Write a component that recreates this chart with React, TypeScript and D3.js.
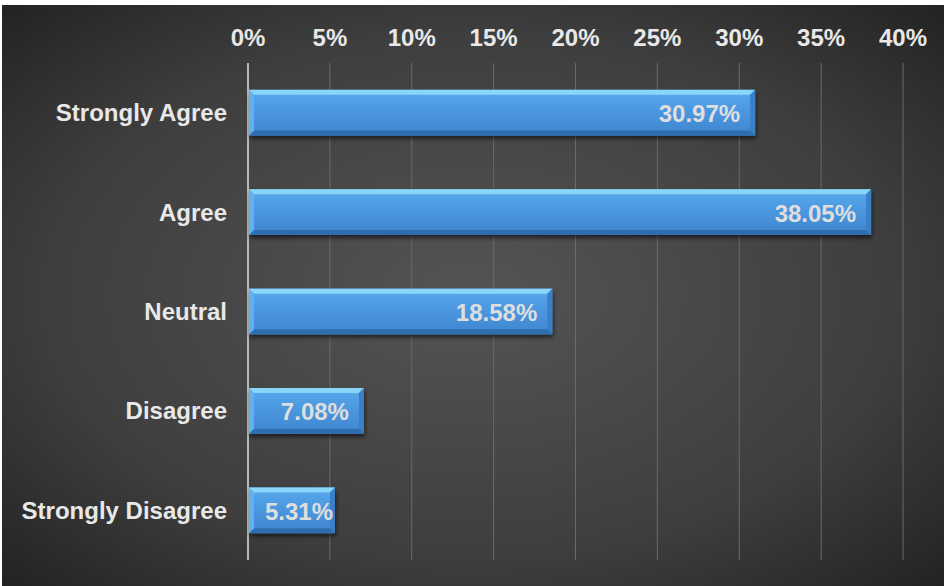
import React from "react";
import * as d3 from "d3";

const categories = ["Strongly Agree", "Agree", "Neutral", "Disagree", "Strongly Disagree"];
const values = [30.97, 38.05, 18.58, 7.08, 5.31];
const tickValues = [0, 5, 10, 15, 20, 25, 30, 35, 40];

const W = 944;
const H = 586;

function labelWidth(s: string, size: number) {
  let w = 0;
  for (const ch of s) w += ch === "." ? 0.278 : ch === "%" ? 0.889 : 0.556;
  return w * size;
}

export default function App() {
  const x = d3.scaleLinear().domain([0, 40]).range([248, 903]);
  const y = d3.scaleBand<string>().domain(categories).range([63, 560]).paddingInner(0.54).paddingOuter(0.27);
  const bh = y.bandwidth();
  const bev = 5;
  const font = "'Liberation Sans', Arial, sans-serif";
  return (
    <svg width={W} height={H} style={{ position: "absolute", left: 0, top: 0 }}>
      <defs>
        <radialGradient id="bg" cx="0.5" cy="0.5" r="0.75" fx="0.5" fy="0.5">
          <stop offset="0" stopColor="#545454" />
          <stop offset="0.6" stopColor="#3e3e3e" />
          <stop offset="1" stopColor="#1e1e1e" />
        </radialGradient>
        <linearGradient id="barg" x1="0" y1="0" x2="0" y2="1">
          <stop offset="0" stopColor="#58aaee" />
          <stop offset="0.5" stopColor="#4a96de" />
          <stop offset="1" stopColor="#3f86cf" />
        </linearGradient>
        <filter id="sh" x="-5%" y="-20%" width="115%" height="160%">
          <feGaussianBlur in="SourceAlpha" stdDeviation="2" />
          <feOffset dx="1" dy="3" result="o" />
          <feComponentTransfer>
            <feFuncA type="linear" slope="0.6" />
          </feComponentTransfer>
          <feMerge>
            <feMergeNode />
            <feMergeNode in="SourceGraphic" />
          </feMerge>
        </filter>
      </defs>
      <rect x={2} y={5} width={W - 2} height={H - 5} fill="url(#bg)" />
      {tickValues.map((t) => (
        <line key={t} x1={x(t)} x2={x(t)} y1={63} y2={560} stroke={t === 0 ? "#b8b8b8" : "#6a6a6a"} strokeWidth={t === 0 ? 2 : 1} />
      ))}
      {tickValues.map((t) => (
        <text key={"l" + t} x={x(t)} y={37} textAnchor="middle" dominantBaseline="central" fill="#e8e8e8" fontFamily={font} fontWeight="bold" fontSize={24}>
          {t + "%"}
        </text>
      ))}
      {categories.map((c, i) => {
        const x0 = x(0) + 1;
        const x1 = x(values[i]);
        const y0 = y(c)!;
        const y1 = y0 + bh;
        const lbl = values[i].toFixed(2) + "%";
        const lw = labelWidth(lbl, 24);
        const lx = Math.max(x1 - 15, x(0) + 17 + lw);
        return (
          <g key={c}>
            <g filter="url(#sh)">
              <rect x={x0} y={y0} width={x1 - x0} height={bh} fill="url(#barg)" />
            </g>
            <polygon points={`${x0},${y0} ${x1},${y0} ${x1 - bev},${y0 + bev} ${x0 + bev},${y0 + bev}`} fill="#8ad6f8" />
            <polygon points={`${x1},${y0} ${x1},${y1} ${x1 - bev},${y1 - bev} ${x1 - bev},${y0 + bev}`} fill="#3b80c6" />
            <polygon points={`${x0},${y1} ${x1},${y1} ${x1 - bev},${y1 - bev} ${x0 + bev},${y1 - bev}`} fill="#2f6dae" />
            <polygon points={`${x0},${y0} ${x0 + bev},${y0 + bev} ${x0 + bev},${y1 - bev} ${x0},${y1}`} fill="#5fb2ef" />
            <text x={lx} y={y0 + bh / 2 + 1} textAnchor="end" dominantBaseline="central" fill="#dedede" fontFamily={font} fontWeight="bold" fontSize={24}>
              {lbl}
            </text>
            <text x={227} y={y0 + bh / 2} textAnchor="end" dominantBaseline="central" fill="#e8e8e8" fontFamily={font} fontWeight="bold" fontSize={24}>
              {c}
            </text>
          </g>
        );
      })}
    </svg>
  );
}
